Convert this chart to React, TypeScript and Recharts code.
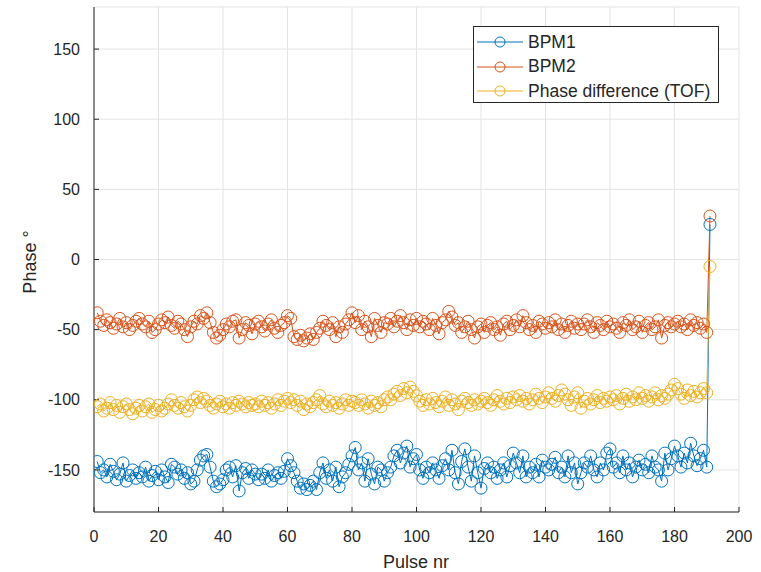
import {
  ComposedChart,
  Line,
  XAxis,
  YAxis,
  CartesianGrid,
  Label,
} from "recharts";

// Phase readings per pulse (degrees), pulses 1..191
const BPM1 = [
  -144, -152, -150, -155, -146, -151, -157, -153, -145, -158,
  -154, -150, -156, -152, -155, -148, -158, -154, -151, -157,
  -150, -155, -159, -146, -148, -153, -150, -156, -152, -160,
  -158, -150, -143, -140, -139, -148, -158, -162, -160, -157,
  -150, -148, -155, -147, -165, -152, -149, -156, -150, -153,
  -157, -153, -156, -150, -158, -154, -152, -156, -151, -142,
  -147, -152, -158, -163, -160, -164, -161, -158, -164, -152,
  -145, -156, -150, -158, -148, -162, -155, -152, -146, -140,
  -134, -150, -145, -158, -142, -153, -160, -148, -150, -158,
  -152, -148, -140, -136, -145, -138, -133, -148, -142, -139,
  -150, -156, -148, -152, -145, -150, -156, -147, -142, -150,
  -136, -152, -160, -144, -135, -148, -158, -140, -152, -163,
  -149, -145, -152, -148, -156, -150, -145, -155, -147, -138,
  -145, -152, -140, -155, -148, -152, -146, -155, -143, -148,
  -150, -146, -141, -152, -148, -155, -140, -152, -145, -160,
  -152, -145, -148, -140, -150, -155, -145, -150, -138, -135,
  -148, -145, -152, -140, -150, -145, -155, -148, -143, -150,
  -146, -152, -140, -148, -150, -158, -138, -150, -142, -133,
  -140, -148, -138, -145, -131, -140, -147, -142, -136, -148,
  25,
];

const BPM2 = [
  -38, -44, -47, -43, -45, -49, -46, -42, -48, -45,
  -50, -47, -44, -42, -46, -48, -44, -52, -50, -46,
  -43, -45, -41, -47, -49, -44, -46, -50, -55, -48,
  -44, -46, -40, -42, -38, -45, -52, -56, -54, -50,
  -46, -48, -44, -43, -56, -50, -45, -47, -53, -46,
  -44, -48, -51, -46, -43, -49, -52, -47, -45, -40,
  -42, -55, -57, -54, -58, -56, -53, -57, -52, -49,
  -44, -47, -50, -45, -55, -48, -52, -46, -43, -38,
  -45, -40, -50, -44, -48, -55, -42, -47, -52, -45,
  -46, -42, -48, -44, -40, -45, -50, -43, -47, -42,
  -48, -44, -46, -50, -42, -47, -53, -45, -43, -37,
  -41, -47, -45, -52, -48, -44, -50, -56, -48, -46,
  -52, -47, -45, -50, -48, -54, -46, -44, -50, -47,
  -43, -48, -40, -45, -50, -47, -52, -44, -46, -49,
  -45, -48, -43, -50, -46, -52, -47, -44, -49, -46,
  -50, -46, -43, -48, -52, -45, -47, -50, -44, -48,
  -46, -49, -52, -45, -47, -43, -50, -48, -44, -52,
  -47, -45, -50, -48, -43, -56, -47, -45, -48, -46,
  -44, -48, -46, -50, -43, -47, -45, -49, -46, -52,
  31,
];

const TOF = [
  -105, -103, -108, -106, -102, -107, -104, -109, -105, -103,
  -107, -110, -106, -104, -108, -105, -103, -109, -107, -104,
  -108, -106, -103, -100, -104, -106, -102, -105, -108, -104,
  -100, -98, -102, -99, -101, -104, -106, -103, -101, -105,
  -103, -106, -102, -104, -101, -103, -105, -102, -104, -103,
  -105, -101, -104, -102, -106, -103, -100, -104, -101, -99,
  -102, -100, -104, -101, -107, -103, -105, -102, -100, -97,
  -103, -105, -101, -104, -102, -106, -103, -100, -104, -101,
  -102, -104, -100, -103, -106, -101, -104, -102, -105, -100,
  -98, -100, -96, -94, -97, -92, -95, -91, -94, -97,
  -101, -104, -100, -103, -99, -102, -105, -101, -98, -104,
  -100, -103, -107, -101, -99, -102, -104, -100, -103, -101,
  -99, -102, -104, -100, -97, -101, -103, -99, -102, -98,
  -100, -97, -101, -99, -103, -100, -96, -99, -102, -98,
  -95, -99, -101, -97, -93, -96, -100, -104, -98, -95,
  -106, -101, -99, -103, -100, -97, -102, -99, -101, -98,
  -100, -97, -103, -99, -96, -101, -98, -100, -95, -99,
  -97, -101, -98, -95, -100, -97, -99, -96, -93, -89,
  -92, -96, -99, -93, -97, -94, -98, -95, -92, -95,
  -5,
];

const X_TICKS = [0, 20, 40, 60, 80, 100, 120, 140, 160, 180, 200];
const Y_TICKS = [-150, -100, -50, 0, 50, 100, 150];

const SERIES = [
  { key: "bpm1", name: "BPM1", color: "#0072BD" },
  { key: "bpm2", name: "BPM2", color: "#D95319" },
  { key: "tof", name: "Phase difference (TOF)", color: "#EDB120" },
];

const data = BPM1.map((v, i) => ({
  pulse: i + 1,
  bpm1: v,
  bpm2: BPM2[i],
  tof: TOF[i],
}));

const FONT = "'Liberation Sans', Arial, sans-serif";
const INK = "#262626";

export default function App() {
  const tickStyle = { fill: INK, fontSize: 16, fontFamily: FONT };
  return (
    <div style={{ position: "absolute", left: 0, top: 0, width: 761, height: 572, background: "#fff" }}>
      <ComposedChart
        width={761}
        height={572}
        data={data}
        margin={{ top: 7, right: 22, bottom: 0, left: 0 }}
      >
        <CartesianGrid stroke="#e3e3e3" xAxisId="b" yAxisId="l" />
        <XAxis
          xAxisId="b"
          dataKey="pulse"
          type="number"
          domain={[0, 200]}
          ticks={X_TICKS}
          height={60}
          tick={tickStyle}
          tickSize={-5}
          tickMargin={24}
          stroke={INK}
          allowDataOverflow
        >
          <Label
            content={() => (
              <text x={416} y={568} textAnchor="middle" fill={INK} fontSize={18} fontFamily={FONT}>
                Pulse nr
              </text>
            )}
          />
        </XAxis>
        <XAxis
          xAxisId="t"
          orientation="top"
          dataKey="pulse"
          type="number"
          domain={[0, 200]}
          ticks={X_TICKS}
          height={0}
          tick={false}
          tickSize={-5}
          stroke={INK}
          allowDataOverflow
        />
        <YAxis
          yAxisId="l"
          type="number"
          domain={[-180, 180]}
          ticks={Y_TICKS}
          width={94}
          tick={tickStyle}
          tickSize={-5}
          tickMargin={19}
          stroke={INK}
          allowDataOverflow
        >
          <Label
            content={() => (
              <text
                x={36}
                y={262}
                transform="rotate(-90 36 262)"
                textAnchor="middle"
                fill={INK}
                fontSize={18}
                fontFamily={FONT}
              >
                Phase °
              </text>
            )}
          />
        </YAxis>
        <YAxis
          yAxisId="r"
          orientation="right"
          type="number"
          domain={[-180, 180]}
          ticks={Y_TICKS}
          width={0}
          tick={false}
          tickSize={-5}
          stroke={INK}
          allowDataOverflow
        />
        {SERIES.map((s) => (
          <Line
            key={s.key}
            xAxisId="b"
            yAxisId="l"
            dataKey={s.key}
            name={s.name}
            type="linear"
            stroke={s.color}
            strokeWidth={1}
            dot={{ r: 6, fill: "none", stroke: s.color, strokeWidth: 1 }}
            isAnimationActive={false}
          />
        ))}
      </ComposedChart>
      <div
        style={{
          position: "absolute",
          left: 473,
          top: 26,
          width: 244,
          height: 75,
          border: `1px solid ${INK}`,
          background: "#fff",
          fontFamily: FONT,
          fontSize: 17.5,
          color: INK,
          boxSizing: "content-box",
        }}
      >
        {SERIES.map((s, i) => (
          <div
            key={s.key}
            style={{ position: "absolute", left: 0, top: 5 + i * 24.5, height: 20, display: "flex", alignItems: "center" }}
          >
            <svg width={52} height={20} style={{ display: "block" }}>
              <line x1={3} y1={10} x2={49} y2={10} stroke={s.color} strokeWidth={1} />
              <circle cx={26} cy={10} r={5} fill="none" stroke={s.color} strokeWidth={1} />
            </svg>
            <span style={{ marginLeft: 2, whiteSpace: "nowrap" }}>{s.name}</span>
          </div>
        ))}
      </div>
    </div>
  );
}
